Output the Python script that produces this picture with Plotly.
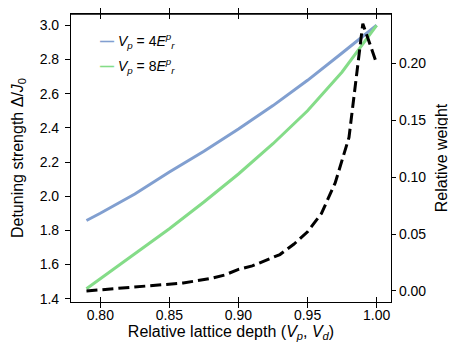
import plotly.graph_objects as go

# relative lattice depth grid for the detuning curves
depth = [0.79, 0.80, 0.825, 0.85, 0.875, 0.90, 0.925, 0.95, 0.975, 1.00]
detuning_vp4 = [1.858, 1.900, 2.013, 2.141, 2.263, 2.393, 2.530, 2.678, 2.838, 3.000]
detuning_vp8 = [1.459, 1.517, 1.663, 1.810, 1.966, 2.130, 2.307, 2.500, 2.727, 3.000]

# relative weight (right axis)
depth_w = [0.79, 0.80, 0.81, 0.82, 0.83, 0.84, 0.85, 0.86, 0.87, 0.88, 0.89,
           0.90, 0.91, 0.92, 0.93, 0.94, 0.95, 0.96, 0.97, 0.98, 0.99, 1.00]
weight = [0.000, 0.001, 0.002, 0.003, 0.004, 0.005, 0.006, 0.007, 0.009, 0.011, 0.014,
          0.019, 0.022, 0.027, 0.032, 0.041, 0.052, 0.068, 0.095, 0.135, 0.235, 0.200]

blue = "#819fd0"
green = "#84dc88"
font = "Liberation Sans, Arial, sans-serif"

fig = go.Figure()
fig.add_trace(go.Scatter(x=depth, y=detuning_vp4, mode="lines", line=dict(color=blue, width=3),
                         showlegend=False))
fig.add_trace(go.Scatter(x=depth, y=detuning_vp8, mode="lines", line=dict(color=green, width=3),
                         showlegend=False))
fig.add_trace(go.Scatter(x=depth_w, y=weight, mode="lines", yaxis="y2",
                         line=dict(color="black", width=3, dash="11px,5px"), showlegend=False))

# legend drawn as text entries
fig.add_annotation(xref="paper", yref="paper", x=0.085, y=0.905, xanchor="left", yanchor="middle",
                   showarrow=False, font=dict(size=14, family=font, color="black"),
                   text=f"<span style='color:{blue}'><b>—</b></span> <i>V<sub>p</sub></i> = 4<i>E</i><sup><i>p</i></sup><sub><i>r</i></sub>")
fig.add_annotation(xref="paper", yref="paper", x=0.085, y=0.82, xanchor="left", yanchor="middle",
                   showarrow=False, font=dict(size=14, family=font, color="black"),
                   text=f"<span style='color:{green}'><b>—</b></span> <i>V<sub>p</sub></i> = 8<i>E</i><sup><i>p</i></sup><sub><i>r</i></sub>")

# top frame line
fig.add_shape(type="line", xref="paper", yref="paper", x0=0, x1=1, y0=1, y1=1,
              line=dict(color="black", width=1.5))

axis_common = dict(showline=True, linecolor="black", linewidth=1.2, showgrid=False, zeroline=False,
                   tickcolor="black", tickfont=dict(size=14, family=font, color="black"))

fig.update_layout(
    width=456, height=346,
    margin=dict(l=63, r=73, t=6, b=52),
    plot_bgcolor="white", paper_bgcolor="white",
    font=dict(family=font, color="black"),
    xaxis=dict(**axis_common, range=[0.7788, 1.0104], tickvals=[0.80, 0.85, 0.90, 0.95, 1.00],
               ticktext=["0.80", "0.85", "0.90", "0.95", "1.00"],
               ticks="inside", ticklen=5, mirror="allticks",
               title=dict(text="Relative lattice depth (<i>V<sub>p</sub></i>, <i>V<sub>d</sub></i>)",
                          font=dict(size=16, family=font), standoff=2)),
    yaxis=dict(**axis_common, range=[1.381, 3.066], tickvals=[1.4, 1.6, 1.8, 2.0, 2.2, 2.4, 2.6, 2.8, 3.0],
               ticktext=["1.4", "1.6", "1.8", "2.0", "2.2", "2.4", "2.6", "2.8", "3.0"],
               ticks="outside", ticklen=5, ticklabelstandoff=3,
               title=dict(text="Detuning strength Δ/<i>J</i><sub>0</sub>", font=dict(size=16, family=font),
                          standoff=12)),
    yaxis3=dict(overlaying="y", side="left", matches="y", showline=False, showgrid=False, zeroline=False,
                showticklabels=False, ticks="inside", ticklen=5, tickcolor="black",
                tickvals=[1.4, 1.6, 1.8, 2.0, 2.2, 2.4, 2.6, 2.8, 3.0]),
    yaxis2=dict(**axis_common, overlaying="y", side="right", range=[-0.0097, 0.2435],
                tickvals=[0.0, 0.05, 0.10, 0.15, 0.20], ticktext=["0.00", "0.05", "0.10", "0.15", "0.20"],
                ticks="outside", ticklen=4,
                title=dict(text="Relative weight", font=dict(size=16, family=font), standoff=10)),
)

fig.write_html("out.html")
